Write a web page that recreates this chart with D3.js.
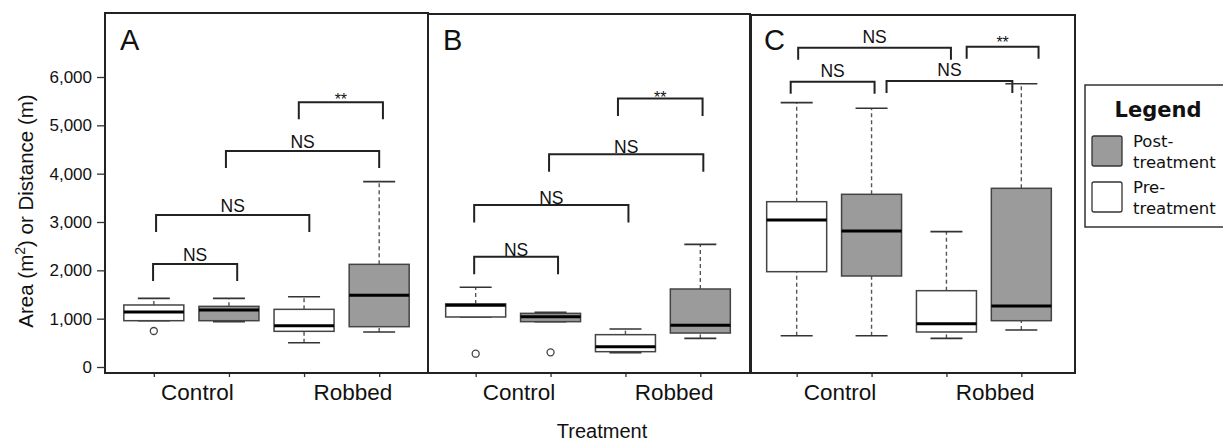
<!DOCTYPE html>
<html>
<head>
<meta charset="utf-8">
<style>
  body { margin: 0; background: #fff; }
  svg text { font-family: "Liberation Sans", Arial, sans-serif; fill: #111; }
  .legend text { font-family: "DejaVu Sans", Verdana, sans-serif; }
  .axis .domain { display: none; }
</style>
</head>
<body>
<svg width="1223" height="443"></svg>
<script src="https://d3js.org/d3.v7.min.js"></script>
<script>

// groups on the x axis and the two phases drawn side by side in each group
var categories = ["Control", "Robbed"];
var series = ["Pre-treatment", "Post-treatment"];
var panels = ["A", "B", "C"];
var yTicks = [0, 1000, 2000, 3000, 4000, 5000, 6000];

// box order: Control pre, Control post, Robbed pre, Robbed post
// each box is [low whisker, Q1, median, Q3, high whisker]
var boxesA = [[958, 958, 1138, 1283, 1420], [937, 958, 1180, 1255, 1420], [503, 738, 855, 1193, 1455], [724, 834, 1483, 2124, 3835]];
var boxesB = [[1035, 1035, 1280, 1305, 1650], [938, 938, 1041, 1110, 1131], [296, 317, 421, 669, 786], [593, 703, 863, 1614, 2538]];
var boxesC = [[648, 1972, 3042, 3420, 5469], [648, 1883, 2814, 3573, 5352], [593, 724, 896, 1579, 2800], [766, 958, 1262, 3697, 5860]];

var outliersA = [[745], [], [], []];
var outliersB = [[275], [303], [], []];
var outliersC = [[], [], [], []];

// significance brackets: box index from / to, height in data units
var bracketsA = [
  {from: 1.93, to: 3.05, y: 5480, label: "**"},
  {from: 0.96, to: 3.00, y: 4470, label: "NS"},
  {from: 0.03, to: 2.07, y: 3145, label: "NS"},
  {from: -0.01, to: 1.11, y: 2130, label: "NS"}
];
var bracketsB = [
  {from: 1.90, to: 3.03, y: 5557, label: "**"},
  {from: 0.98, to: 3.04, y: 4401, label: "NS"},
  {from: -0.02, to: 2.04, y: 3352, label: "NS"},
  {from: -0.02, to: 1.10, y: 2282, label: "NS"}
];
var bracketsC = [
  {from: 0.02, to: 2.06, y: 6607, label: "NS"},
  {from: 2.27, to: 3.23, y: 6628, label: "**"},
  {from: -0.08, to: 1.04, y: 5904, label: "NS"},
  {from: 1.20, to: 2.88, y: 5918, label: "NS"}
];

var allBoxes = [boxesA, boxesB, boxesC];
var allOutliers = [outliersA, outliersB, outliersC];
var allBrackets = [bracketsA, bracketsB, bracketsC];

var svg = d3.select("svg");
var greyFill = "#9b9b9b";

var y = d3.scaleLinear().domain([0, 6000]).range([367, 77]);

// panel frames and the x range used inside each
var frames = [
  {x0: 105, x1: 428, top: 13},
  {x0: 428, x1: 750, top: 14},
  {x0: 751, x1: 1075, top: 15}
];
var ranges = [[105, 428], [427, 749], [748, 1070]];
var legLen = [17, 17.5, 12];
var labelGap = [3, 1, 5];
var bottom = 373;

panels.forEach(function(p, pi) {
  var f = frames[pi];
  var x = d3.scaleLinear().domain([-0.65, 3.65]).range(ranges[pi]);
  var g = svg.append("g");

  // bottom ticks at each box
  g.append("g")
      .attr("class", "axis")
      .attr("transform", "translate(0," + bottom + ")")
      .call(d3.axisBottom(x).tickValues([0, 1, 2, 3]).tickFormat("").tickSize(4))
    .selectAll("line").attr("stroke", "#333").attr("stroke-width", 1.3);

  g.append("rect")
      .attr("x", f.x0)
      .attr("y", f.top)
      .attr("width", f.x1 - f.x0)
      .attr("height", bottom - f.top)
      .attr("fill", "none")
      .attr("stroke", "#222")
      .attr("stroke-width", 2);

  g.append("text")
      .attr("x", f.x0 + (pi == 2 ? 13 : 15))
      .attr("y", 50)
      .attr("font-size", 29)
      .text(p);

  // brackets
  var br = g.selectAll(".bracket")
    .data(allBrackets[pi])
    .enter().append("g");

  br.append("path")
      .attr("d", function(d) {
        var a = x(d.from), b = x(d.to), yy = y(d.y);
        return "M" + a + "," + (yy + legLen[pi]) + "V" + yy + "H" + b + "V" + (yy + legLen[pi]);
      })
      .attr("fill", "none")
      .attr("stroke", "#222")
      .attr("stroke-width", 2);

  br.append("text")
      .attr("x", function(d) { return (x(d.from) + x(d.to)) / 2; })
      .attr("y", function(d) { return y(d.y) - labelGap[pi] + (d.label == "**" ? 6 : 0); })
      .attr("text-anchor", "middle")
      .attr("font-size", function(d) { return d.label == "**" ? 16 : 17.5; })
      .text(function(d) { return d.label; });

  // boxes
  var bw = 60, cw = 32;
  var box = g.selectAll(".box")
    .data(allBoxes[pi])
    .enter().append("g")
      .attr("transform", function(d, i) { return "translate(" + x(i) + ",0)"; });

  box.append("line")
      .attr("y1", function(d) { return y(d[3]); })
      .attr("y2", function(d) { return y(d[4]); })
      .attr("stroke", "#555").attr("stroke-width", 1.4).attr("stroke-dasharray", "4,3");
  box.append("line")
      .attr("y1", function(d) { return y(d[0]); })
      .attr("y2", function(d) { return y(d[1]); })
      .attr("stroke", "#555").attr("stroke-width", 1.4).attr("stroke-dasharray", "4,3");
  box.append("line")
      .attr("x1", -cw / 2).attr("x2", cw / 2)
      .attr("y1", function(d) { return y(d[4]); })
      .attr("y2", function(d) { return y(d[4]); })
      .attr("stroke", "#333").attr("stroke-width", 1.6);
  box.append("line")
      .attr("x1", -cw / 2).attr("x2", cw / 2)
      .attr("y1", function(d) { return y(d[0]); })
      .attr("y2", function(d) { return y(d[0]); })
      .attr("stroke", "#333").attr("stroke-width", 1.6);
  box.append("rect")
      .attr("x", -bw / 2)
      .attr("width", bw)
      .attr("y", function(d) { return y(d[3]); })
      .attr("height", function(d) { return y(d[1]) - y(d[3]); })
      .attr("fill", function(d, i) { return i % 2 ? greyFill : "#fff"; })
      .attr("stroke", "#444")
      .attr("stroke-width", 1.5);
  box.append("line")
      .attr("x1", -bw / 2).attr("x2", bw / 2)
      .attr("y1", function(d) { return y(d[2]); })
      .attr("y2", function(d) { return y(d[2]); })
      .attr("stroke", "#000").attr("stroke-width", 3);

  box.each(function(d, i) {
    d3.select(this).selectAll("circle")
      .data(allOutliers[pi][i])
      .enter().append("circle")
        .attr("r", 3.5)
        .attr("cy", function(v) { return y(v); })
        .attr("fill", "#fff")
        .attr("stroke", "#444")
        .attr("stroke-width", 1.3);
  });

  // group labels
  g.selectAll(".cat")
    .data(categories)
    .enter().append("text")
      .attr("x", function(d, i) { return x(i * 2 + 0.5 + (i ? 0.15 : 0.08)); })
      .attr("y", 400)
      .attr("text-anchor", "middle")
      .attr("font-size", 22.5)
      .text(function(d) { return d; });

  if (pi == 0) {
    var ax = g.append("g")
        .attr("class", "axis")
        .attr("transform", "translate(" + f.x0 + ",0)")
        .call(d3.axisLeft(y).tickValues(yTicks).tickFormat(d3.format(",")).tickSize(8).tickPadding(5));
    ax.selectAll("text").attr("font-size", 17).attr("fill", "#111")
      .style("font-family", "'Liberation Sans', Arial, sans-serif");
    ax.selectAll("line").attr("stroke", "#333").attr("stroke-width", 1.3);
  }
});

// axis titles
var yt = svg.append("text")
    .attr("transform", "translate(33,211) rotate(-90)")
    .attr("text-anchor", "middle")
    .attr("font-size", 20.5);
yt.append("tspan").text("Area (m");
yt.append("tspan").attr("font-size", 14).attr("dy", -8).text("2");
yt.append("tspan").attr("dy", 8).text(") or Distance (m)");

svg.append("text")
    .attr("x", 602)
    .attr("y", 438)
    .attr("text-anchor", "middle")
    .attr("font-size", 20)
    .text("Treatment");

// legend
var legend = svg.append("g").attr("class", "legend");
legend.append("rect")
    .attr("x", 1085).attr("y", 85)
    .attr("width", 142).attr("height", 142)
    .attr("fill", "#fff").attr("stroke", "#333").attr("stroke-width", 1.5);
legend.append("text")
    .attr("x", 1158).attr("y", 117)
    .attr("text-anchor", "middle")
    .attr("font-size", 21)
    .attr("font-weight", "bold")
    .text("Legend");

var items = series.slice().reverse();
var li = legend.selectAll(".item")
  .data(items)
  .enter().append("g")
    .attr("transform", function(d, i) { return "translate(0," + i * 46 + ")"; });

li.append("rect")
    .attr("x", 1092).attr("y", 136)
    .attr("width", 30).attr("height", 30)
    .attr("rx", 2)
    .attr("fill", function(d) { return d == "Post-treatment" ? greyFill : "#fff"; })
    .attr("stroke", "#333").attr("stroke-width", 1.3);

li.append("text")
    .attr("x", 1133).attr("y", 147)
    .attr("font-size", 16.5)
    .text(function(d) { return d.split("-")[0] + "-"; });
li.append("text")
    .attr("x", 1133).attr("y", 168)
    .attr("font-size", 16.5)
    .text(function(d) { return d.split("-")[1]; });

</script>
</body>
</html>
